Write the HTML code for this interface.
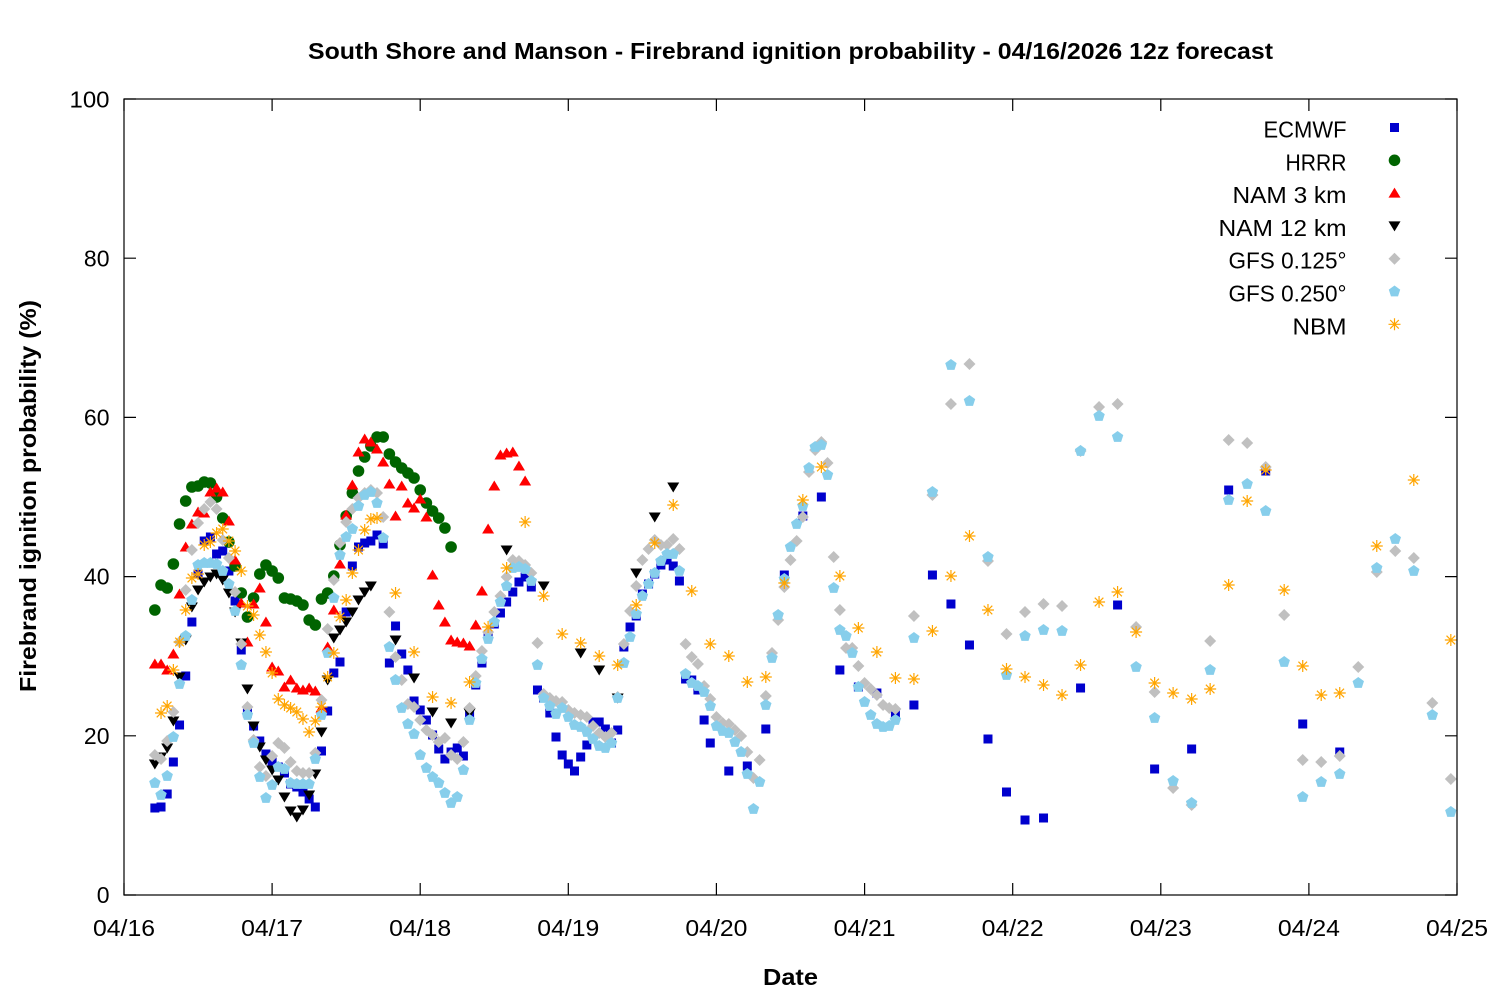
<!DOCTYPE html>
<html><head><meta charset="utf-8"><title>Firebrand ignition probability</title>
<style>html,body{margin:0;padding:0;background:#fff}svg{display:block}text{font-family:"Liberation Sans",Arial,sans-serif;fill:#000}</style></head>
<body>
<svg id="c" width="1500" height="1000" viewBox="0 0 1500 1000" xmlns="http://www.w3.org/2000/svg">
<rect width="1500" height="1000" fill="#fff"/>
<text x="308" y="59" font-size="23" font-weight="bold" textLength="965" lengthAdjust="spacingAndGlyphs">South Shore and Manson - Firebrand ignition probability - 04/16/2026 12z forecast</text>
<g font-size="23" text-anchor="end">
<text x="109.5" y="107.5" textLength="40" lengthAdjust="spacingAndGlyphs">100</text>
<text x="109.5" y="266.5">80</text>
<text x="109.5" y="425.5">60</text>
<text x="109.5" y="584.5">40</text>
<text x="109.5" y="744">20</text>
<text x="109.5" y="903">0</text>
</g>
<g font-size="23" text-anchor="middle">
<text x="124" y="936" textLength="62" lengthAdjust="spacingAndGlyphs">04/16</text>
<text x="272.1" y="936" textLength="62" lengthAdjust="spacingAndGlyphs">04/17</text>
<text x="420.2" y="936" textLength="62" lengthAdjust="spacingAndGlyphs">04/18</text>
<text x="568.3" y="936" textLength="62" lengthAdjust="spacingAndGlyphs">04/19</text>
<text x="716.4" y="936" textLength="62" lengthAdjust="spacingAndGlyphs">04/20</text>
<text x="864.6" y="936" textLength="62" lengthAdjust="spacingAndGlyphs">04/21</text>
<text x="1012.7" y="936" textLength="62" lengthAdjust="spacingAndGlyphs">04/22</text>
<text x="1160.8" y="936" textLength="62" lengthAdjust="spacingAndGlyphs">04/23</text>
<text x="1308.9" y="936" textLength="62" lengthAdjust="spacingAndGlyphs">04/24</text>
<text x="1457" y="936" textLength="62" lengthAdjust="spacingAndGlyphs">04/25</text>
</g>
<text x="790.5" y="985" font-size="23" font-weight="bold" text-anchor="middle" textLength="55" lengthAdjust="spacingAndGlyphs">Date</text>
<text transform="translate(36,496) rotate(-90)" font-size="23" font-weight="bold" text-anchor="middle" textLength="392" lengthAdjust="spacingAndGlyphs">Firebrand ignition probability (%)</text>
<g font-size="23" text-anchor="end">
<text x="1346.5" y="137.5" textLength="83" lengthAdjust="spacingAndGlyphs">ECMWF</text>
<text x="1346.5" y="170.3" textLength="61" lengthAdjust="spacingAndGlyphs">HRRR</text>
<text x="1346.5" y="203.1" textLength="114" lengthAdjust="spacingAndGlyphs">NAM 3 km</text>
<text x="1346.5" y="235.9" textLength="128" lengthAdjust="spacingAndGlyphs">NAM 12 km</text>
<text x="1346.5" y="268.7" textLength="118" lengthAdjust="spacingAndGlyphs">GFS 0.125°</text>
<text x="1346.5" y="301.5" textLength="118" lengthAdjust="spacingAndGlyphs">GFS 0.250°</text>
<text x="1346.5" y="334.3" textLength="54" lengthAdjust="spacingAndGlyphs">NBM</text>
</g>
<g id="pts"></g>
<g stroke="#000" stroke-width="1.2" fill="none">
<rect x="124" y="99" width="1333" height="796"/>
<path d="M124 895v-12M272.1 895v-12M420.2 895v-12M568.3 895v-12M716.4 895v-12M864.6 895v-12M1012.7 895v-12M1160.8 895v-12M1308.9 895v-12M1457 895v-12
M124 99v12M272.1 99v12M420.2 99v12M568.3 99v12M716.4 99v12M864.6 99v12M1012.7 99v12M1160.8 99v12M1308.9 99v12M1457 99v12
M124 895h12M124 735.8h12M124 576.6h12M124 417.4h12M124 258.2h12M124 99h12
M1457 895h-12M1457 735.8h-12M1457 576.6h-12M1457 417.4h-12M1457 258.2h-12M1457 99h-12"/>
</g>
</svg>
<script>
(function(){
var X=function(h){return 124+h*148.111/24;};
function run(s,st,ys){return ys.map(function(y,i){return [s+i*st,y];});}
function sq(x,y){return '<rect x="'+(x-4.5)+'" y="'+(y-4.5)+'" width="9" height="9" fill="#0000cd"/>';}
function ci(x,y){return '<circle cx="'+x+'" cy="'+y+'" r="5.8" fill="#006400"/>';}
function tu(x,y){return '<polygon points="'+x+','+(y-5.5)+' '+(x-6)+','+(y+4.5)+' '+(x+6)+','+(y+4.5)+'" fill="#ff0000"/>';}
function td(x,y){return '<polygon points="'+x+','+(y+5.5)+' '+(x-6)+','+(y-4.5)+' '+(x+6)+','+(y-4.5)+'" fill="#000000"/>';}
function di(x,y){return '<polygon points="'+x+','+(y-6)+' '+(x+6)+','+y+' '+x+','+(y+6)+' '+(x-6)+','+y+'" fill="#c0c0c0"/>';}
function pe(x,y){return '<polygon points="'+x+','+(y-6)+' '+(x+5.71)+','+(y-1.85)+' '+(x+3.53)+','+(y+4.85)+' '+(x-3.53)+','+(y+4.85)+' '+(x-5.71)+','+(y-1.85)+'" fill="#87ceeb"/>';}
function st(x,y){return '<path d="M'+(x-6)+' '+y+'h12M'+x+' '+(y-6)+'v12M'+(x-4.3)+' '+(y-4.3)+'l8.6 8.6M'+(x-4.3)+' '+(y+4.3)+'l8.6 -8.6" stroke="#ffa500" stroke-width="1.2" fill="none"/>';}

var ec=[].concat(
run(5,1,[808,807,794,762,725,676,622,574,541,537,554,551,571,601,650,713,726,741,754,761,767,773,784,787,792,799,807,751,711,673,662,612,566,547,543,541,535,544,663,626,654,670,701,710,720,735,749,759,752,748,756,713,685,663,636,624,613,602,592,582,577,587,690,698,713,737,755,764,771,757,745,722,722,729,743,730,647,627,616,594,584,574,565,560,566,581,679,680,690,720,743]),
run(98,3,[771,766,729,575,516,497,670,687,693,715,705,575,604,645,739,792,820,818]),
run(155,6,[688,605,769,749,490,471,724,752]));
var hr=run(5,1,[610,585,588,564,524,501,487,486,482,483,497,518,542,566,593,617,598,574,565,571,578,598,599,601,605,620,625,599,593,576,545,516,493,471,457,446,437,437,454,462,468,473,478,490,503,511,518,528,547]);
var n3=run(5,1,[664,664,670,654,594,547,524,512,513,492,488,492,521,560,603,642,604,588,622,667,671,687,680,688,690,688,691,708,647,610,564,515,485,452,439,442,449,462,484,516,486,503,508,499,517,575,605,622,640,642,643,646,625,591,529,486,455,453,452,466,481]);
var n12=[].concat(
run(5,1,[764,757,748,721,677,640,607,590,582,577,574,580,593,612,643,689,726,747,760,770,780,797,811,817,810,795,774,732,680,638,630,622,612,600,592,586]),
run(44,3,[640,678,712,723,713]),
[[62,550],[68,586],[74,653],[77,670],[80,698],[83,573],[86,517],[89,487]]);
var g1=[].concat(
run(5,1,[755,759,741,712,642,590,550,523,509,502,509,540,558,592,644,707,740,767,776,756,743,748,762,771,773,773,753,700,629,580,543,522,509,498,493,490,493,517,612,657,680,704,707,720,730,735,742,738,755,759,742,708,676,651,632,612,596,577,560,561,565,573,643,694,698,701,702,710,713,715,717,726,733,737,733,697,644,611,586,560,549,540,545,545,539,549,644,657,664,686,699,717,723,724,730,736,752,778,760,696,653,620,587,560,541,517,472,450,442,463,557,610,648,648,666,683,689,695,705,708,709]),
run(128,3,[616,495,404,364,561,634,612,604,606,451,407,404,627,692,788,805,641,440,443,467,615,760,762,756,667,572,551,558,703,779]));
var g2=[].concat(
run(5,1,[783,795,776,737,684,636,600,565,563,563,564,571,584,611,665,715,743,777,798,785,767,769,783,784,784,784,759,715,653,598,555,537,529,506,495,492,503,538,647,680,708,724,734,755,768,777,783,793,803,797,770,720,683,659,639,622,602,586,568,567,569,581,665,698,706,714,708,717,725,727,732,739,746,748,743,698,663,637,614,596,584,573,561,554,554,571,674,683,686,692,706,726,731,733,742,752,774,809,782,705,658,615,579,547,524,506,468,447,445,475,588,630,636,653,687,702,715,724,727,726,720]),
run(128,3,[638,492,365,401,557,675,636,630,631,451,416,437,667,718,781,803,670,500,484,511,662,797,782,774,683,568,539,571,715,812]));
var nb=[].concat(
run(6,1,[713,706,670,642,610,578,574,545,542,533,529,541,551,571,606,615,635,652,673,699,705,708,712,719,732,721,707,677,653,617,600,573,550,530,519,518]),
run(44,3,[593,652,697,703,682,627,568,522,596,634,643,656,665,605,543,505,591,644,656,682,677,583,500,467,576,628,652,678,679,631,576,536,610,669,677,685,695,665,602,592,632,683,693,699,689,585,501,470,590,666,695,693]),
[[203,546],[209,480],[215,640]]);

var out=[];
function draw(arr,f){arr.forEach(function(p){out.push(f(+X(p[0]).toFixed(2),p[1]));});}
draw(ec,sq);draw(hr,ci);draw(n3,tu);draw(n12,td);draw(g1,di);draw(g2,pe);draw(nb,st);
var lx=1394.5,ly=127.5,d=32.8;
out.push(sq(lx,ly),ci(lx,ly+d),tu(lx,ly+2*d),td(lx,ly+3*d),di(lx,ly+4*d),pe(lx,ly+5*d),st(lx,ly+6*d));
document.getElementById('pts').innerHTML=out.join('');
})();
</script>
</body></html>
